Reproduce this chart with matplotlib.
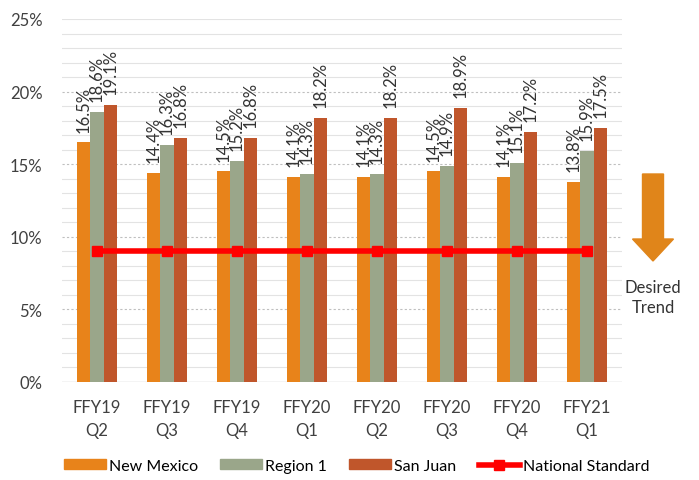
import numpy as np
import matplotlib.pyplot as plt
from matplotlib.patches import Patch, FancyArrow
from matplotlib.lines import Line2D

plt.rcParams['font.family'] = ['Lato', 'DejaVu Sans']

# data
quarters = ['FFY19\nQ2', 'FFY19\nQ3', 'FFY19\nQ4', 'FFY20\nQ1',
            'FFY20\nQ2', 'FFY20\nQ3', 'FFY20\nQ4', 'FFY21\nQ1']
new_mexico = [16.5, 14.4, 14.5, 14.1, 14.1, 14.5, 14.1, 13.8]
region_1 = [18.6, 16.3, 15.2, 14.3, 14.3, 14.9, 15.1, 15.9]
san_juan = [19.1, 16.8, 16.8, 18.2, 18.2, 18.9, 17.2, 17.5]
national_std = [9.0] * 8

c_nm = '#E8831A'
c_r1 = '#9AA68A'
c_sj = '#C0562B'
c_ns = '#FF0000'

W, H = 699, 481
fig = plt.figure(figsize=(W / 100, H / 100), dpi=100)
ax = fig.add_axes([62 / W, 1 - 383 / H, 560 / W, 363 / H])

x = np.arange(len(quarters))
w = 0.195
series = [(new_mexico, c_nm), (region_1, c_r1), (san_juan, c_sj)]
for k, (vals, col) in enumerate(series):
    xs = x + (k - 1) * w
    ax.bar(xs, vals, width=w, color=col, zorder=3)
    for xi, v in zip(xs, vals):
        ax.text(xi, v + 0.75, '%.1f%%' % v, rotation=90, ha='center', va='bottom',
                fontsize=12, color='#333333', zorder=4)

ax.plot(x, national_std, color=c_ns, lw=4, marker='s', ms=7, zorder=5)

# gridlines (1% steps, dashed at 5 and 10..20)
for g in range(1, 26):
    if g % 5 == 0 and g < 25:
        ax.axhline(g, color='#bfbfbf', lw=0.8, ls=(0, (2, 2)), zorder=1)
    else:
        ax.axhline(g, color='#e3e3e3', lw=0.8, zorder=1)
ax.axhline(0, color='#c8c8c8', lw=1, zorder=2)

ax.set_ylim(0, 25)
ax.set_xlim(-0.5, len(quarters) - 0.5)
ax.set_yticks(range(0, 26, 5))
ax.set_yticklabels(['%d%%' % t for t in range(0, 26, 5)], fontsize=12, color='#404040')
ax.set_xticks(x)
ax.set_xticklabels(quarters, fontsize=12, color='#404040', linespacing=1.6)
ax.tick_params(axis='y', length=0, pad=14)
ax.tick_params(axis='x', length=0, pad=12)
for s in ax.spines.values():
    s.set_visible(False)

# desired trend arrow
fig.patches.append(FancyArrow(653 / W, 1 - 175 / H, 0, -(87 / H), width=21 / W,
                              head_width=41 / W, head_length=22 / H, length_includes_head=True,
                              color='#E0851A', transform=fig.transFigure, figure=fig))
fig.text(653 / W, 1 - 298 / H, 'Desired\nTrend', ha='center', va='center',
         fontsize=12, color='#333333', linespacing=1.3)

handles = [Patch(color=c_nm), Patch(color=c_r1), Patch(color=c_sj),
           Line2D([0], [0], color=c_ns, lw=4, marker='s', ms=7)]
labels = ['New Mexico', 'Region 1', 'San Juan', 'National Standard']
fig.legend(handles, labels, loc='center', bbox_to_anchor=(357 / W, 1 - 467 / H),
           ncol=4, frameon=False, fontsize=11.5, handlelength=2.6, handleheight=0.6,
           columnspacing=1.4, handletextpad=0.2)

fig.savefig('out.png', dpi=100)
